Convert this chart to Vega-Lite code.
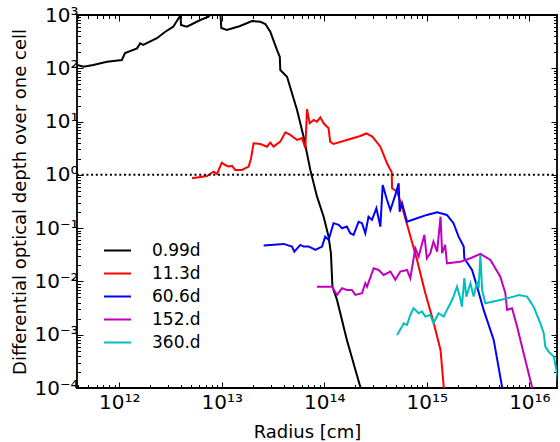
{
  "$schema": "https://vega.github.io/schema/vega-lite/v6.json",
  "width": 480,
  "height": 373,
  "autosize": {"type": "none"},
  "padding": {"left": 77, "top": 15, "right": 3, "bottom": 54},
  "config": {
    "view": {"stroke": "#000", "strokeWidth": 1.8},
    "axis": {"labelFont": "DejaVu Sans", "labelFontSize": 20, "labelColor": "#000", "titleFont": "DejaVu Sans", "titleFontSize": 18, "titleFontWeight": "normal", "titleColor": "#000", "tickColor": "#000", "tickWidth": 1, "domain": false, "grid": false, "labelOverlap": false, "labelFlush": false, "labelBound": false},
    "legend": {"labelFont": "DejaVu Sans", "labelFontSize": 17, "labelColor": "#000"}
  },
  "datasets": {
    "curves": [
      {"s":"0.99d","r":3.9e11,"t":115},{"s":"0.99d","r":4.49e11,"t":107},{"s":"0.99d","r":5.57e11,"t":115},{"s":"0.99d","r":7.59e11,"t":133},{"s":"0.99d","r":1.06e12,"t":143},{"s":"0.99d","r":1.14e12,"t":194},{"s":"0.99d","r":1.49e12,"t":237},{"s":"0.99d","r":1.6e12,"t":294},{"s":"0.99d","r":1.71e12,"t":274},{"s":"0.99d","r":2.33e12,"t":366},{"s":"0.99d","r":2.81e12,"t":486},{"s":"0.99d","r":3.36e12,"t":604},{"s":"0.99d","r":3.87e12,"t":929},{"s":"0.99d","r":3.94e12,"t":1150},{"s":"0.99d","r":4.0e12,"t":649},{"s":"0.99d","r":4.57e12,"t":604},{"s":"0.99d","r":6.17e12,"t":806},{"s":"0.99d","r":7.43e12,"t":929},{"s":"0.99d","r":8.08e12,"t":1150},{"s":"0.99d","r":9.67e12,"t":1150},{"s":"0.99d","r":9.89e12,"t":570},{"s":"0.99d","r":1.12e13,"t":523},{"s":"0.99d","r":1.51e13,"t":622},{"s":"0.99d","r":1.97e13,"t":771},{"s":"0.99d","r":2.38e13,"t":748},{"s":"0.99d","r":2.66e13,"t":678},{"s":"0.99d","r":2.97e13,"t":486},{"s":"0.99d","r":3.46e13,"t":220},{"s":"0.99d","r":3.68e13,"t":163},{"s":"0.99d","r":3.72e13,"t":92.9},{"s":"0.99d","r":4.33e13,"t":69.5},{"s":"0.99d","r":5.42e13,"t":16.5},{"s":"0.99d","r":6.28e13,"t":5.21},{"s":"0.99d","r":7.3e13,"t":1.24},{"s":"0.99d","r":8.49e13,"t":0.39},{"s":"0.99d","r":9.85e13,"t":0.164},{"s":"0.99d","r":1.1e14,"t":0.0693},{"s":"0.99d","r":1.16e14,"t":0.0338},{"s":"0.99d","r":1.2e14,"t":0.00798},{"s":"0.99d","r":1.33e14,"t":0.0045},{"s":"0.99d","r":1.66e14,"t":0.000798},{"s":"0.99d","r":2.24e14,"t":0.000106},{"s":"0.99d","r":2.35e14,"t":0.00008},
      {"s":"11.3d","r":5.12e12,"t":0.863},{"s":"11.3d","r":7.17e12,"t":0.953},{"s":"11.3d","r":8.32e12,"t":1.15},{"s":"11.3d","r":8.98e12,"t":1.04},{"s":"11.3d","r":1.0e13,"t":1.69},{"s":"11.3d","r":1.08e13,"t":1.53},{"s":"11.3d","r":1.16e13,"t":1.43},{"s":"11.3d","r":1.26e13,"t":1.47},{"s":"11.3d","r":1.35e13,"t":1.24},{"s":"11.3d","r":1.57e13,"t":1.24},{"s":"11.3d","r":1.83e13,"t":1.43},{"s":"11.3d","r":1.93e13,"t":2.05},{"s":"11.3d","r":2.04e13,"t":3.92},{"s":"11.3d","r":2.38e13,"t":3.8},{"s":"11.3d","r":2.76e13,"t":3.38},{"s":"11.3d","r":2.97e13,"t":4.02},{"s":"11.3d","r":3.2e13,"t":3.38},{"s":"11.3d","r":3.72e13,"t":4.2},{"s":"11.3d","r":4.17e13,"t":6.3},{"s":"11.3d","r":4.66e13,"t":5.61},{"s":"11.3d","r":5.42e13,"t":4.52},{"s":"11.3d","r":6.06e13,"t":4.92},{"s":"11.3d","r":6.53e13,"t":3.15},{"s":"11.3d","r":6.78e13,"t":17.0},{"s":"11.3d","r":7.19e13,"t":9.29},{"s":"11.3d","r":7.87e13,"t":10.7},{"s":"11.3d","r":8.49e13,"t":9.95},{"s":"11.3d","r":9.14e13,"t":12.0},{"s":"11.3d","r":9.85e13,"t":9.29},{"s":"11.3d","r":1.1e14,"t":7.48},{"s":"11.3d","r":1.14e14,"t":4.2},{"s":"11.3d","r":1.23e14,"t":3.8},{"s":"11.3d","r":1.66e14,"t":4.52},{"s":"11.3d","r":2.24e14,"t":5.37},{"s":"11.3d","r":2.57e14,"t":5.98},{"s":"11.3d","r":2.94e14,"t":5.21},{"s":"11.3d","r":3.52e14,"t":3.38},{"s":"11.3d","r":4.09e14,"t":1.65},{"s":"11.3d","r":4.41e14,"t":1.24},{"s":"11.3d","r":4.54e14,"t":1.13},{"s":"11.3d","r":4.58e14,"t":0.561},{"s":"11.3d","r":5.12e14,"t":0.484},{"s":"11.3d","r":5.73e14,"t":0.253},{"s":"11.3d","r":6.64e14,"t":0.0925},{"s":"11.3d","r":8.02e14,"t":0.0253},{"s":"11.3d","r":9.67e14,"t":0.00601},{"s":"11.3d","r":1.16e15,"t":0.00174},{"s":"11.3d","r":1.36e15,"t":0.000519},{"s":"11.3d","r":1.46e15,"t":0.000106},{"s":"11.3d","r":1.47e15,"t":0.000085},
      {"s":"60.6d","r":2.56e13,"t":0.047},{"s":"60.6d","r":4.01e13,"t":0.0506},{"s":"60.6d","r":4.84e13,"t":0.045},{"s":"60.6d","r":5.1e13,"t":0.0362},{"s":"60.6d","r":5.83e13,"t":0.0484},{"s":"60.6d","r":6.28e13,"t":0.045},{"s":"60.6d","r":7.03e13,"t":0.045},{"s":"60.6d","r":7.59e13,"t":0.042},{"s":"60.6d","r":8.17e13,"t":0.039},{"s":"60.6d","r":9.5e13,"t":0.045},{"s":"60.6d","r":1.02e14,"t":0.0693},{"s":"60.6d","r":1.1e14,"t":0.0601},{"s":"60.6d","r":1.23e14,"t":0.124},{"s":"60.6d","r":1.38e14,"t":0.115},{"s":"60.6d","r":1.49e14,"t":0.0995},{"s":"60.6d","r":1.66e14,"t":0.107},{"s":"60.6d","r":1.79e14,"t":0.0802},{"s":"60.6d","r":1.93e14,"t":0.0745},{"s":"60.6d","r":2.16e14,"t":0.132},{"s":"60.6d","r":2.33e14,"t":0.124},{"s":"60.6d","r":2.51e14,"t":0.0802},{"s":"60.6d","r":2.7e14,"t":0.164},{"s":"60.6d","r":2.92e14,"t":0.143},{"s":"60.6d","r":3.22e14,"t":0.236},{"s":"60.6d","r":3.52e14,"t":0.107},{"s":"60.6d","r":3.71e14,"t":0.647},{"s":"60.6d","r":4.09e14,"t":0.338},{"s":"60.6d","r":4.41e14,"t":0.219},{"s":"60.6d","r":4.93e14,"t":0.42},{"s":"60.6d","r":5.31e14,"t":0.695},{"s":"60.6d","r":5.43e14,"t":0.204},{"s":"60.6d","r":5.73e14,"t":0.293},{"s":"60.6d","r":6.41e14,"t":0.132},{"s":"60.6d","r":8.02e14,"t":0.153},{"s":"60.6d","r":1.0e15,"t":0.177},{"s":"60.6d","r":1.26e15,"t":0.199},{"s":"60.6d","r":1.57e15,"t":0.177},{"s":"60.6d","r":1.82e15,"t":0.124},{"s":"60.6d","r":2.04e15,"t":0.0693},{"s":"60.6d","r":2.29e15,"t":0.045},{"s":"60.6d","r":2.32e15,"t":0.0272},{"s":"60.6d","r":2.56e15,"t":0.0204},{"s":"60.6d","r":2.76e15,"t":0.0164},{"s":"60.6d","r":3.09e15,"t":0.00798},{"s":"60.6d","r":3.58e15,"t":0.00292},{"s":"60.6d","r":4.49e15,"t":0.000798},{"s":"60.6d","r":5.41e15,"t":0.000106},{"s":"60.6d","r":5.46e15,"t":0.000085},
      {"s":"152.d","r":8.49e13,"t":0.00798},{"s":"152.d","r":1.19e14,"t":0.00798},{"s":"152.d","r":1.33e14,"t":0.00558},{"s":"152.d","r":1.49e14,"t":0.00745},{"s":"152.d","r":1.66e14,"t":0.00693},{"s":"152.d","r":1.86e14,"t":0.00693},{"s":"152.d","r":2.01e14,"t":0.00558},{"s":"152.d","r":2.33e14,"t":0.00601},{"s":"152.d","r":2.51e14,"t":0.00925},{"s":"152.d","r":2.61e14,"t":0.00798},{"s":"152.d","r":3.03e14,"t":0.0177},{"s":"152.d","r":3.39e14,"t":0.0164},{"s":"152.d","r":3.79e14,"t":0.0132},{"s":"152.d","r":4.41e14,"t":0.0153},{"s":"152.d","r":4.93e14,"t":0.0107},{"s":"152.d","r":5.51e14,"t":0.0153},{"s":"152.d","r":6.41e14,"t":0.0164},{"s":"152.d","r":6.9e14,"t":0.0115},{"s":"152.d","r":7.72e14,"t":0.042},{"s":"152.d","r":8.32e14,"t":0.0292},{"s":"152.d","r":9.46e14,"t":0.0745},{"s":"152.d","r":1.0e15,"t":0.0272},{"s":"152.d","r":1.08e15,"t":0.0338},{"s":"152.d","r":1.16e15,"t":0.0558},{"s":"152.d","r":1.26e15,"t":0.0362},{"s":"152.d","r":1.36e15,"t":0.164},{"s":"152.d","r":1.41e15,"t":0.0338},{"s":"152.d","r":1.51e15,"t":0.0484},{"s":"152.d","r":1.57e15,"t":0.0219},{"s":"152.d","r":2.12e15,"t":0.0235},{"s":"152.d","r":2.66e15,"t":0.0272},{"s":"152.d","r":3.33e15,"t":0.0328},{"s":"152.d","r":4.17e15,"t":0.0253},{"s":"152.d","r":5.21e15,"t":0.0123},{"s":"152.d","r":5.83e15,"t":0.00601},{"s":"152.d","r":6.06e15,"t":0.00292},{"s":"152.d","r":6.78e15,"t":0.00314},{"s":"152.d","r":7.59e15,"t":0.00142},{"s":"152.d","r":8.79e15,"t":0.00045},{"s":"152.d","r":1.06e16,"t":0.000106},{"s":"152.d","r":1.07e16,"t":0.000085},
      {"s":"360.d","r":5.12e14,"t":0.000991},{"s":"360.d","r":5.73e14,"t":0.00142},{"s":"360.d","r":5.94e14,"t":0.00164},{"s":"360.d","r":6.41e14,"t":0.00153},{"s":"360.d","r":6.9e14,"t":0.00235},{"s":"360.d","r":7.43e14,"t":0.00314},{"s":"360.d","r":8.32e14,"t":0.00253},{"s":"360.d","r":8.98e14,"t":0.00271},{"s":"360.d","r":9.67e14,"t":0.00219},{"s":"360.d","r":1.08e15,"t":0.00235},{"s":"360.d","r":1.16e15,"t":0.00164},{"s":"360.d","r":1.3e15,"t":0.00253},{"s":"360.d","r":1.46e15,"t":0.00219},{"s":"360.d","r":1.57e15,"t":0.00292},{"s":"360.d","r":1.7e15,"t":0.0039},{"s":"360.d","r":1.82e15,"t":0.00519},{"s":"360.d","r":1.97e15,"t":0.00798},{"s":"360.d","r":2.12e15,"t":0.00484},{"s":"360.d","r":2.2e15,"t":0.00337},{"s":"360.d","r":2.32e15,"t":0.0115},{"s":"360.d","r":2.43e15,"t":0.00519},{"s":"360.d","r":2.66e15,"t":0.00925},{"s":"360.d","r":2.86e15,"t":0.00519},{"s":"360.d","r":3.09e15,"t":0.00991},{"s":"360.d","r":3.2e15,"t":0.00745},{"s":"360.d","r":3.33e15,"t":0.0314},{"s":"360.d","r":3.46e15,"t":0.00693},{"s":"360.d","r":3.72e15,"t":0.0039},{"s":"360.d","r":5.21e15,"t":0.0045},{"s":"360.d","r":7.03e15,"t":0.00519},{"s":"360.d","r":7.87e15,"t":0.00558},{"s":"360.d","r":9.5e15,"t":0.00519},{"s":"360.d","r":1.1e16,"t":0.00337},{"s":"360.d","r":1.28e16,"t":0.00164},{"s":"360.d","r":1.38e16,"t":0.00107},{"s":"360.d","r":1.43e16,"t":0.000598},{"s":"360.d","r":1.54e16,"t":0.000482},{"s":"360.d","r":1.73e16,"t":0.000388},{"s":"360.d","r":1.86e16,"t":0.00019},{"s":"360.d","r":1.92e16,"t":0.000114}
    ],
    "ref": [{"r0": 3.87e11, "r1": 1.86e16, "t": 1}]
  },
  "layer": [
    {
      "data": {"name": "curves"},
      "mark": {"type": "line", "strokeWidth": 2, "clip": true},
      "encoding": {
        "x": {"field": "r", "type": "quantitative",
          "scale": {"type": "log", "domain": [3.87e11, 1.86e16], "nice": false},
          "axis": {"orient": "bottom", "title": "Radius [cm]", "titleX": 230, "titleY": 49, "titleBaseline": "alphabetic", "titleAnchor": "middle", "titleAlign": "center",
            "values": [4e11,5e11,6e11,7e11,8e11,9e11,1e12,2e12,3e12,4e12,5e12,6e12,7e12,8e12,9e12,1e13,2e13,3e13,4e13,5e13,6e13,7e13,8e13,9e13,1e14,2e14,3e14,4e14,5e14,6e14,7e14,8e14,9e14,1e15,2e15,3e15,4e15,5e15,6e15,7e15,8e15,9e15,1e16],
            "tickSize": {"condition": {"test": "abs(log(datum.value)/LN10 - round(log(datum.value)/LN10)) < 0.001", "value": -6}, "value": -3.5},
            "labelPadding": 10,
            "labelExpr": "abs(log(datum.value)/LN10 - round(log(datum.value)/LN10)) < 0.001 ? '10' + replace(replace(replace(replace(replace(replace(replace(replace(replace(replace(replace(toString(round(log(datum.value)/LN10)),'-','⁻'),'0','⁰'),'1','¹'),'2','²'),'3','³'),'4','⁴'),'5','⁵'),'6','⁶'),'7','⁷'),'8','⁸'),'9','⁹') : ''"}},
        "y": {"field": "t", "type": "quantitative",
          "scale": {"type": "log", "domain": [1e-4, 1e3], "nice": false},
          "axis": {"orient": "left", "title": "Differential optical depth over one cell", "titleX": -57, "titleY": 186.5, "titleAngle": -90, "titleBaseline": "middle", "titleAlign": "center",
            "values": [1e-4,2e-4,3e-4,4e-4,5e-4,6e-4,7e-4,8e-4,9e-4,1e-3,2e-3,3e-3,4e-3,5e-3,6e-3,7e-3,8e-3,9e-3,1e-2,2e-2,3e-2,4e-2,5e-2,6e-2,7e-2,8e-2,9e-2,1e-1,2e-1,3e-1,4e-1,5e-1,6e-1,7e-1,8e-1,9e-1,1,2,3,4,5,6,7,8,9,10,20,30,40,50,60,70,80,90,100,200,300,400,500,600,700,800,900,1000],
            "tickSize": {"condition": {"test": "abs(log(datum.value)/LN10 - round(log(datum.value)/LN10)) < 0.001", "value": -6}, "value": -3.5},
            "labelPadding": 5,
            "labelExpr": "abs(log(datum.value)/LN10 - round(log(datum.value)/LN10)) < 0.001 ? '10' + replace(replace(replace(replace(replace(replace(replace(replace(replace(replace(replace(toString(round(log(datum.value)/LN10)),'-','⁻'),'0','⁰'),'1','¹'),'2','²'),'3','³'),'4','⁴'),'5','⁵'),'6','⁶'),'7','⁷'),'8','⁸'),'9','⁹') : ''"}},
        "color": {"field": "s", "type": "nominal",
          "scale": {"domain": ["0.99d","11.3d","60.6d","152.d","360.d"], "range": ["#000000","#ff0000","#0000ff","#bf00bf","#00bfbf"]},
          "legend": {"title": null, "orient": "none", "legendX": 26, "legendY": 221, "symbolType": "stroke", "symbolSize": 729, "symbolStrokeWidth": 2, "labelOffset": 20, "rowPadding": 0, "padding": 0}},
        "order": {"field": "r", "type": "quantitative"}
      }
    },
    {
      "data": {"name": "ref"},
      "mark": {"type": "rule", "color": "#000", "strokeWidth": 2, "strokeDash": [2, 2.7]},
      "encoding": {
        "x": {"field": "r0", "type": "quantitative",
          "scale": {"type": "log", "domain": [3.87e11, 1.86e16], "nice": false},
          "axis": {"orient": "top", "title": null, "labels": false,
            "values": [4e11,5e11,6e11,7e11,8e11,9e11,1e12,2e12,3e12,4e12,5e12,6e12,7e12,8e12,9e12,1e13,2e13,3e13,4e13,5e13,6e13,7e13,8e13,9e13,1e14,2e14,3e14,4e14,5e14,6e14,7e14,8e14,9e14,1e15,2e15,3e15,4e15,5e15,6e15,7e15,8e15,9e15,1e16],
            "tickSize": {"condition": {"test": "abs(log(datum.value)/LN10 - round(log(datum.value)/LN10)) < 0.001", "value": -6}, "value": -3.5}}},
        "x2": {"field": "r1"},
        "y": {"field": "t", "type": "quantitative",
          "scale": {"type": "log", "domain": [1e-4, 1e3], "nice": false},
          "axis": {"orient": "right", "title": null, "labels": false,
            "values": [1e-4,2e-4,3e-4,4e-4,5e-4,6e-4,7e-4,8e-4,9e-4,1e-3,2e-3,3e-3,4e-3,5e-3,6e-3,7e-3,8e-3,9e-3,1e-2,2e-2,3e-2,4e-2,5e-2,6e-2,7e-2,8e-2,9e-2,1e-1,2e-1,3e-1,4e-1,5e-1,6e-1,7e-1,8e-1,9e-1,1,2,3,4,5,6,7,8,9,10,20,30,40,50,60,70,80,90,100,200,300,400,500,600,700,800,900,1000],
            "tickSize": {"condition": {"test": "abs(log(datum.value)/LN10 - round(log(datum.value)/LN10)) < 0.001", "value": -6}, "value": -3.5}}}
      }
    }
  ],
  "resolve": {"axis": {"x": "independent", "y": "independent"}}
}
